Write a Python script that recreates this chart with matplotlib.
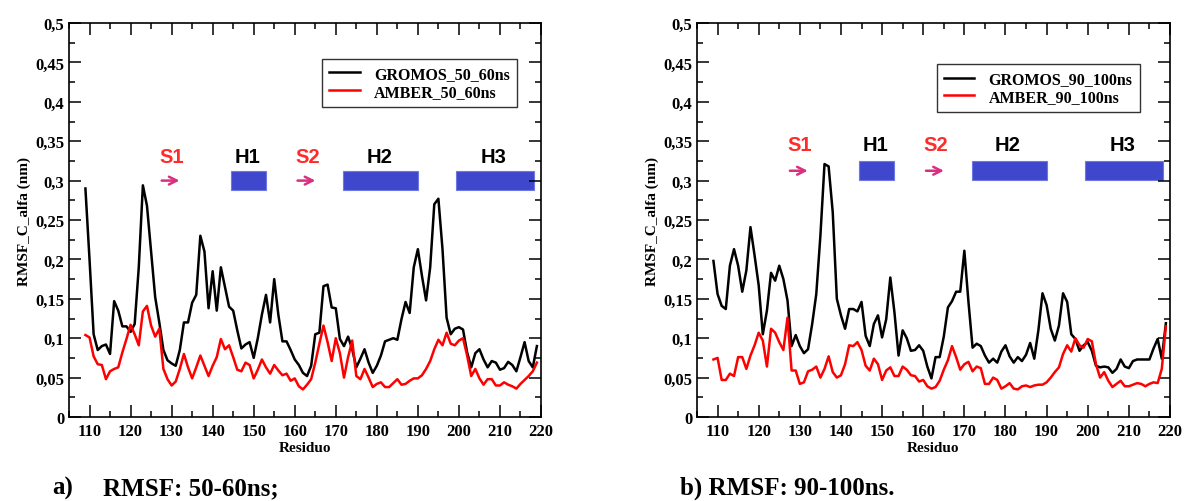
import numpy as np
import matplotlib
matplotlib.use('Agg')
import matplotlib.pyplot as plt
from matplotlib.patches import Rectangle
from matplotlib.ticker import MultipleLocator, FuncFormatter

residues = np.arange(109, 220)

gromos_50_60 = [0.290, 0.200, 0.105, 0.085, 0.090, 0.092, 0.080, 0.147, 0.135, 0.115,
                0.115, 0.108, 0.118, 0.190, 0.294, 0.268, 0.210, 0.152, 0.120, 0.085,
                0.072, 0.068, 0.065, 0.085, 0.120, 0.120, 0.145, 0.155, 0.230, 0.210,
                0.138, 0.185, 0.135, 0.190, 0.165, 0.140, 0.135, 0.110, 0.087, 0.092,
                0.095, 0.075, 0.100, 0.130, 0.155, 0.120, 0.175, 0.130, 0.096, 0.096,
                0.085, 0.073, 0.066, 0.056, 0.052, 0.065, 0.105, 0.107, 0.166, 0.168,
                0.139, 0.138, 0.099, 0.090, 0.102, 0.086, 0.063, 0.074, 0.086, 0.069,
                0.056, 0.065, 0.078, 0.096, 0.098, 0.100, 0.098, 0.124, 0.146, 0.132,
                0.190, 0.213, 0.179, 0.148, 0.190, 0.270, 0.277, 0.213, 0.126, 0.105,
                0.112, 0.114, 0.111, 0.082, 0.063, 0.081, 0.086, 0.073, 0.063, 0.071,
                0.069, 0.060, 0.062, 0.070, 0.066, 0.058, 0.076, 0.095, 0.071, 0.063,
                0.090]
amber_50_60 = [0.104, 0.101, 0.077, 0.067, 0.066, 0.048, 0.058, 0.061, 0.063, 0.082,
               0.099, 0.117, 0.105, 0.091, 0.134, 0.141, 0.116, 0.102, 0.112, 0.061,
               0.048, 0.040, 0.045, 0.061, 0.080, 0.063, 0.049, 0.063, 0.078, 0.065,
               0.052, 0.065, 0.076, 0.099, 0.086, 0.091, 0.076, 0.060, 0.058, 0.069,
               0.066, 0.049, 0.060, 0.073, 0.063, 0.055, 0.066, 0.059, 0.053, 0.055,
               0.046, 0.049, 0.039, 0.035, 0.041, 0.048, 0.069, 0.093, 0.116, 0.095,
               0.071, 0.100, 0.081, 0.050, 0.076, 0.097, 0.052, 0.048, 0.061, 0.050,
               0.038, 0.042, 0.044, 0.038, 0.038, 0.043, 0.048, 0.041, 0.042, 0.046,
               0.049, 0.049, 0.053, 0.061, 0.071, 0.086, 0.098, 0.091, 0.107, 0.093,
               0.091, 0.097, 0.100, 0.078, 0.052, 0.061, 0.049, 0.041, 0.048, 0.048,
               0.040, 0.040, 0.044, 0.041, 0.039, 0.036, 0.042, 0.047, 0.052, 0.058,
               0.069]
gromos_90_100 = [0.198, 0.156, 0.141, 0.137, 0.192, 0.213, 0.192, 0.159, 0.186, 0.241,
                 0.205, 0.167, 0.105, 0.135, 0.183, 0.173, 0.192, 0.175, 0.148, 0.090,
                 0.104, 0.090, 0.081, 0.086, 0.118, 0.156, 0.230, 0.321, 0.318, 0.260,
                 0.150, 0.129, 0.112, 0.137, 0.137, 0.134, 0.146, 0.103, 0.090, 0.118,
                 0.129, 0.101, 0.124, 0.177, 0.133, 0.078, 0.110, 0.100, 0.084, 0.085,
                 0.091, 0.084, 0.064, 0.049, 0.076, 0.076, 0.102, 0.139, 0.147, 0.159,
                 0.159, 0.211, 0.146, 0.088, 0.093, 0.090, 0.078, 0.069, 0.074, 0.069,
                 0.083, 0.091, 0.077, 0.069, 0.076, 0.071, 0.079, 0.094, 0.074, 0.110,
                 0.157, 0.142, 0.112, 0.097, 0.116, 0.157, 0.146, 0.105, 0.099, 0.084,
                 0.091, 0.095, 0.084, 0.065, 0.063, 0.064, 0.063, 0.056, 0.061, 0.073,
                 0.064, 0.062, 0.071, 0.073, 0.073, 0.073, 0.073, 0.087, 0.099, 0.074,
                 0.119]
amber_90_100 = [0.073, 0.075, 0.047, 0.047, 0.055, 0.052, 0.076, 0.076, 0.061, 0.078,
                0.091, 0.107, 0.097, 0.064, 0.112, 0.107, 0.095, 0.085, 0.126, 0.059,
                0.059, 0.042, 0.044, 0.058, 0.060, 0.064, 0.050, 0.061, 0.077, 0.057,
                0.050, 0.053, 0.067, 0.091, 0.090, 0.095, 0.085, 0.065, 0.059, 0.074,
                0.067, 0.047, 0.059, 0.063, 0.052, 0.052, 0.064, 0.060, 0.053, 0.052,
                0.045, 0.047, 0.039, 0.036, 0.038, 0.046, 0.060, 0.072, 0.090, 0.076,
                0.060, 0.067, 0.070, 0.058, 0.064, 0.062, 0.042, 0.042, 0.050, 0.047,
                0.036, 0.039, 0.043, 0.036, 0.035, 0.039, 0.040, 0.038, 0.040, 0.041,
                0.041, 0.044, 0.050, 0.057, 0.063, 0.080, 0.091, 0.083, 0.100, 0.091,
                0.088, 0.099, 0.096, 0.067, 0.050, 0.057, 0.046, 0.038, 0.042, 0.046,
                0.039, 0.039, 0.041, 0.043, 0.042, 0.039, 0.042, 0.044, 0.043, 0.061,
                0.115]

# secondary structure elements: label, first residue, last residue
strands = [('S1', 126.9, 132.6), ('S2', 160.0, 165.7)]
helices = [('H1', 144.4, 153.0), ('H2', 171.8, 190.0), ('H3', 199.4, 218.2)]

panels = [
    (gromos_50_60, amber_50_60, 'GROMOS_50_60ns', 'AMBER_50_60ns', 0.331, 0.300, (0.536, 0.909)),
    (gromos_90_100, amber_90_100, 'GROMOS_90_100ns', 'AMBER_90_100ns', 0.346, 0.3125, (0.507, 0.896)),
]

serif = 'Liberation Serif'
sans = 'Liberation Sans'
arrow_col = '#d8307e'
helix_col = '#3f48cc'


def comma(v, pos):
    s = ('%.2f' % v).rstrip('0').rstrip('.')
    return s.replace('.', ',')


fig = plt.figure(figsize=(11.86, 5.02), dpi=100)
lefts = [69 / 1186, 697 / 1186]
widths = [472 / 1186, 473 / 1186]

for i, (g, a, gl, al, label_y, ss_y, leg_pos) in enumerate(panels):
    ax = fig.add_axes([lefts[i], 84 / 502, widths[i], 394 / 502])
    ax.plot(residues, g, color='black', lw=1.8, label=gl)
    ax.plot(residues, a, color='red', lw=1.8, label=al)

    ax.set_xlim(105, 220)
    ax.set_ylim(0, 0.5)
    ax.xaxis.set_major_locator(MultipleLocator(10))
    ax.xaxis.set_minor_locator(MultipleLocator(5))
    ax.yaxis.set_major_locator(MultipleLocator(0.05))
    ax.yaxis.set_minor_locator(MultipleLocator(0.025))
    ax.yaxis.set_major_formatter(FuncFormatter(comma))
    ax.set_xticks(np.arange(110, 221, 10))
    ax.tick_params(which='both', direction='in', top=True, right=True, width=1.1)
    ax.tick_params(which='major', length=8.8)
    ax.tick_params(which='minor', length=4.6)
    ax.tick_params(axis='y', pad=3.5)
    ax.tick_params(axis='x', pad=4.5)
    for lab in ax.get_xticklabels() + ax.get_yticklabels():
        lab.set_fontfamily(serif)
        lab.set_fontweight('bold')
        lab.set_fontsize(12)
    for sp in ax.spines.values():
        sp.set_linewidth(1.2)

    ax.set_xlabel('Residuo', family=serif, weight='bold', fontsize=11, labelpad=1)
    ax.set_ylabel('RMSF_C_alfa (nm)', family=serif, weight='bold', fontsize=11, labelpad=3)

    leg = ax.legend(loc='upper left', bbox_to_anchor=leg_pos, frameon=True,
                    fancybox=False, handlelength=1.9, borderpad=0.45,
                    labelspacing=0.1, handletextpad=0.9, borderaxespad=0,
                    prop={'family': serif, 'weight': 'bold', 'size': 11.5})
    leg.get_frame().set_edgecolor('black')
    leg.get_frame().set_linewidth(1.0)

    # secondary structure markers above the curves
    h = 0.024
    for name, start, end in strands:
        ax.annotate('', xy=(end, ss_y), xytext=(start, ss_y),
                    arrowprops=dict(arrowstyle='->', color=arrow_col, lw=1.8,
                                    mutation_scale=14))
        ax.text((start + end) / 2 + 0.3, label_y, name, color='#ff2a2a',
                family=sans, weight='bold', fontsize=14.5, ha='center', va='center')
    for name, start, end in helices:
        ax.add_patch(Rectangle((start, ss_y - h / 2), end - start, h,
                               facecolor=helix_col, edgecolor='#6f78e0', lw=0.8))
        ax.text((start + end) / 2 - 0.3, label_y, name, color='black',
                family=sans, weight='bold', fontsize=14.5, ha='center', va='center')

# panel captions
cap_y = 1 - 495 / 502
cap_kw = dict(family=serif, weight='bold', fontsize=18, va='baseline')
fig.text(52 / 1186, cap_y, 'a)', ha='left', **cap_kw)
fig.text(103 / 1186, cap_y, 'RMSF: 50-60ns;', ha='left', **cap_kw)
fig.text(895 / 1186, cap_y, 'b) RMSF: 90-100ns.', ha='right', **cap_kw)

fig.savefig('out.png', dpi=100)
